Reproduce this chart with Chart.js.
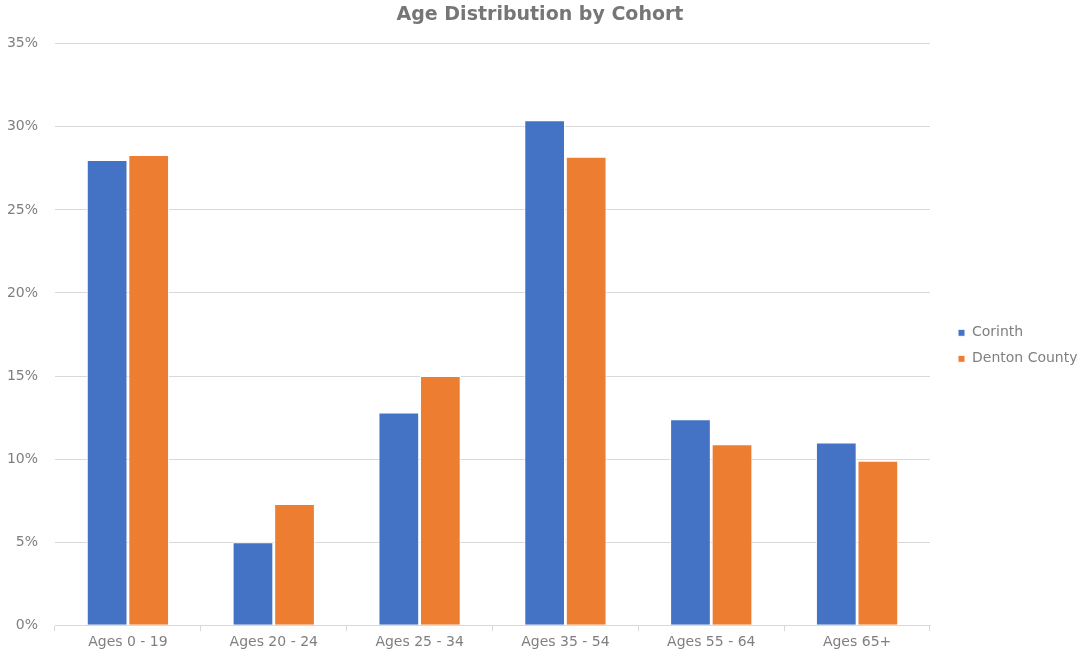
<!DOCTYPE html>
<html>
<head>
<meta charset="utf-8">
<script src="https://cdn.jsdelivr.net/npm/chart.js@4/dist/chart.umd.min.js"></script>
<style>
  html, body { margin: 0; padding: 0; background: #ffffff; }
  #wrap { width: 1080px; height: 654px; position: relative; }
</style>
</head>
<body>
<div id="wrap"><canvas id="chart"></canvas></div>
<script>
// Age cohorts and the share of population in each (percent)
const categories = ["Ages 0 - 19", "Ages 20 - 24", "Ages 25 - 34", "Ages 35 - 54", "Ages 55 - 64", "Ages 65+"];
const corinth = [28.0, 5.0, 12.8, 30.4, 12.4, 11.0];
const dentonCounty = [28.3, 7.3, 15.0, 28.2, 10.9, 9.9];
const seriesNames = ["Corinth", "Denton County"];
const yTicks = [0, 5, 10, 15, 20, 25, 30, 35];

const textColor = "#7f7f7f";
const titleColor = "#767676";
const gridColor = "#d9d9d9";
const font = "'DejaVu Sans', sans-serif";

// Legend sits in a fixed-width column on the right, with a gap after the plot
const LEGEND_WIDTH = 150;
const LEGEND_GAP = 16;
const legendColumn = {
  id: "legendColumn",
  beforeLayout(chart) {
    const lg = chart.legend;
    if (lg && !lg._fixedFit) {
      const origFit = lg.fit.bind(lg);
      lg.fit = function () { origFit(); this.width = LEGEND_WIDTH; };
      lg._fixedFit = true;
    }
  },
  afterLayout(chart) {
    const lg = chart.legend;
    if (lg) {
      lg.left = chart.chartArea.right + LEGEND_GAP;
      lg.right = chart.width;
      lg.width = lg.right - lg.left;
    }
  }
};

new Chart(document.getElementById("chart"), {
  type: "bar",
  data: {
    labels: categories,
    datasets: [
      {
        label: seriesNames[0],
        data: corinth,
        backgroundColor: "#4472C4",
        borderColor: "#ffffff",
        borderWidth: 1,
        barPercentage: 0.98,
        categoryPercentage: 0.57
      },
      {
        label: seriesNames[1],
        data: dentonCounty,
        backgroundColor: "#ED7D31",
        borderColor: "#ffffff",
        borderWidth: 1,
        barPercentage: 0.98,
        categoryPercentage: 0.57
      }
    ]
  },
  plugins: [legendColumn],
  options: {
    responsive: true,
    maintainAspectRatio: false,
    animation: false,
    layout: { padding: { top: 4, right: 0, bottom: 0, left: 0 } },
    plugins: {
      title: {
        display: true,
        text: "Age Distribution by Cohort",
        color: titleColor,
        font: { family: font, size: 19, weight: "bold" },
        padding: { top: 0, bottom: 17 }
      },
      legend: {
        position: "right",
        align: "center",
        title: { display: true, text: " ", padding: { top: 0, bottom: 18 }, font: { size: 13 } },
        labels: {
          color: textColor,
          font: { family: font, size: 14 },
          boxWidth: 7,
          boxHeight: 7,
          padding: 12
        }
      },
      tooltip: { enabled: false }
    },
    scales: {
      x: {
        grid: {
          display: true,
          offset: true,
          drawOnChartArea: false,
          drawTicks: true,
          tickLength: 6,
          color: gridColor
        },
        border: { display: true, color: gridColor },
        ticks: {
          color: textColor,
          font: { family: font, size: 14 },
          padding: 3,
          maxRotation: 0
        }
      },
      y: {
        min: 0,
        max: 35,
        afterFit: (scale) => { scale.width = 55; },
        afterBuildTicks: (scale) => { scale.ticks = yTicks.map(v => ({ value: v })); },
        grid: { color: gridColor, drawTicks: false },
        border: { display: false },
        ticks: {
          color: textColor,
          font: { family: font, size: 14 },
          padding: 17,
          callback: (v) => v + "%"
        }
      }
    }
  }
});
</script>
</body>
</html>
